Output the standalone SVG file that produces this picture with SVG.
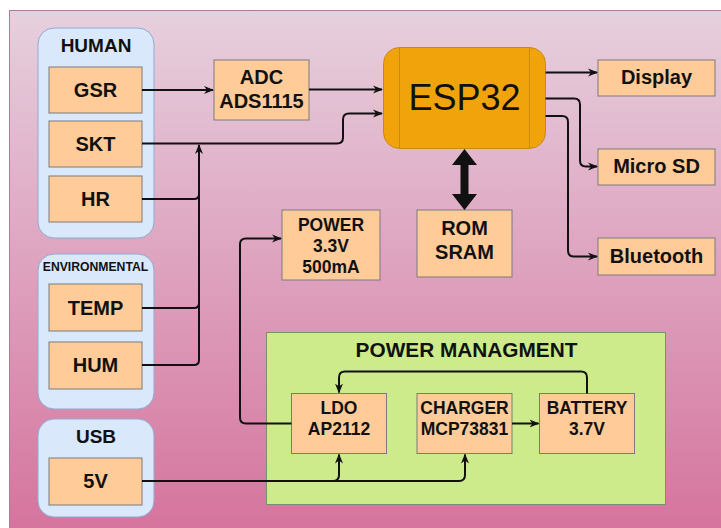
<svg xmlns="http://www.w3.org/2000/svg" width="721" height="528" viewBox="0 0 721 528">
<defs>
<linearGradient id="bg" x1="0" y1="0" x2="0" y2="1">
<stop offset="0" stop-color="#e6d0de"/>
<stop offset="1" stop-color="#d5739d"/>
</linearGradient>
<marker id="arr" viewBox="0 0 10 10" refX="9" refY="5" markerWidth="10" markerHeight="10" markerUnits="userSpaceOnUse" orient="auto">
<path d="M0,1 L10,5 L0,9 L3,5 Z" fill="#111"/>
</marker>
<style>
text{font-family:"Liberation Sans",Arial,sans-serif;font-weight:bold;fill:#111;text-anchor:middle}
.grp{fill:#dae8fc;stroke:#8fa9d4;stroke-width:1}
.box{fill:#ffcc99;stroke:#7a7a7a;stroke-width:1}
.t20{font-size:20px}
.t17{font-size:17.5px}
.t19{font-size:19px}
.con{fill:none;stroke:#111;stroke-width:2}
</style>
</defs>
<rect x="9.5" y="10.5" width="720" height="525" fill="url(#bg)" stroke="#b07a9d"/>

<g id="human">
<rect class="grp" x="38" y="28" width="116" height="210" rx="16"/>
<text class="t19" x="96" y="52">HUMAN</text>
</g>
<g id="gsr"><rect class="box" x="49" y="67" width="93" height="46"/><text class="t20" x="95.5" y="97">GSR</text></g>
<g id="skt"><rect class="box" x="49" y="121" width="93" height="46"/><text class="t20" x="95.5" y="151">SKT</text></g>
<g id="hr"><rect class="box" x="49" y="176" width="93" height="46"/><text class="t20" x="95.5" y="206">HR</text></g>

<g id="environmental">
<rect class="grp" x="38" y="254" width="116" height="155" rx="16"/>
<text x="95.5" y="270.5" style="font-size:12.2px">ENVIRONMENTAL</text>
</g>
<g id="temp"><rect class="box" x="49" y="284" width="93" height="47"/><text class="t20" x="95.5" y="315">TEMP</text></g>
<g id="hum"><rect class="box" x="49" y="342" width="93" height="47"/><text class="t20" x="95.5" y="372">HUM</text></g>

<g id="usb">
<rect class="grp" x="38" y="419" width="116" height="98" rx="16"/>
<text class="t19" x="96" y="443">USB</text>
</g>
<g id="v5"><rect class="box" x="49" y="458" width="93" height="47"/><text class="t20" x="95.5" y="488">5V</text></g>

<g id="adc"><rect class="box" x="214" y="60" width="95" height="60"/><text class="t20" x="261.5" y="83.5">ADC</text><text class="t20" x="261.5" y="108">ADS1115</text></g>

<g id="esp32">
<rect x="383.5" y="47.5" width="162" height="101" rx="16" fill="#f0a30a" stroke="#c98a10"/>
<line x1="399.5" y1="47.5" x2="399.5" y2="148.5" stroke="#c98a10"/>
<line x1="529.5" y1="47.5" x2="529.5" y2="148.5" stroke="#c98a10"/>
<text x="464.5" y="110" style="font-size:36px;font-weight:normal">ESP32</text>
</g>

<g id="display"><rect class="box" x="598" y="60" width="117" height="36"/><text class="t20" x="656.5" y="84">Display</text></g>
<g id="microsd"><rect class="box" x="598" y="149" width="117" height="36"/><text class="t20" x="656.5" y="173">Micro SD</text></g>
<g id="bluetooth"><rect class="box" x="598" y="238" width="117" height="37"/><text class="t20" x="656.5" y="262.5">Bluetooth</text></g>

<g id="romsram"><rect class="box" x="417" y="210" width="95" height="67"/><text class="t20" x="464.5" y="235">ROM</text><text class="t20" x="464.5" y="259">SRAM</text></g>

<g id="power"><rect class="box" x="282" y="210" width="98" height="70"/><text class="t17" x="331" y="231">POWER</text><text class="t17" x="331" y="252">3.3V</text><text class="t17" x="331" y="273">500mA</text></g>

<g id="powermgmt">
<rect x="266.5" y="332.5" width="399" height="172" fill="#cdeb8b" stroke="#7d8f6a"/>
<text x="466.5" y="356.5" style="font-size:20.8px">POWER MANAGMENT</text>
</g>
<g id="ldo"><rect class="box" x="291.5" y="393.5" width="95" height="60"/><text class="t17" x="339" y="414.3">LDO</text><text class="t17" x="339" y="435.3">AP2112</text></g>
<g id="charger"><rect class="box" x="417" y="393.5" width="95" height="60"/><text class="t17" x="464.5" y="414.3">CHARGER</text><text class="t17" x="464.5" y="435.3">MCP73831</text></g>
<g id="battery"><rect class="box" x="539.5" y="393.5" width="95" height="60"/><text class="t17" x="587" y="414.3">BATTERY</text><text class="t17" x="587" y="435.3">3.7V</text></g>

<g id="connectors">
<path class="con" d="M142,90 H213" marker-end="url(#arr)"/>
<path class="con" d="M309,89.5 H382" marker-end="url(#arr)"/>
<path class="con" d="M142,143.5 H337 Q343,143.5 343,137.5 V119.5 Q343,113.5 349,113.5 H382" marker-end="url(#arr)"/>
<path class="con" d="M142,365 H194 Q199,365 199,360 V145" marker-end="url(#arr)"/>
<path class="con" d="M142,308 H194 Q199,308 199,303"/>
<path class="con" d="M142,199 H194 Q199,199 199,194"/>
<path class="con" d="M545.5,72.5 H597" marker-end="url(#arr)"/>
<path class="con" d="M545.5,98.5 H574 Q580,98.5 580,104.5 V160.5 Q580,166.5 586,166.5 H597" marker-end="url(#arr)"/>
<path class="con" d="M545.5,116 H562 Q568,116 568,122 V250.5 Q568,256.5 574,256.5 H597" marker-end="url(#arr)"/>
<polygon points="464.5,149 452,165 460.5,165 460.5,194 452,194 464.5,210 477,194 468.5,194 468.5,165 477,165" fill="#111"/>
<path class="con" d="M291.5,423.5 H246 Q240,423.5 240,417.5 V244 Q240,238.5 246,238.5 H281" marker-end="url(#arr)"/>
<path class="con" d="M142,481 H333 Q339,481 339,475 V454.5" marker-end="url(#arr)"/>
<path class="con" d="M333,481 H459 Q465,481 465,475 V454.5" marker-end="url(#arr)"/>
<path class="con" d="M512,423.5 H538.5" marker-end="url(#arr)"/>
<path class="con" d="M587,393.5 V377.5 Q587,371.5 581,371.5 H345 Q339,371.5 339,377.5 V392.5" marker-end="url(#arr)"/>
</g>
</svg>
